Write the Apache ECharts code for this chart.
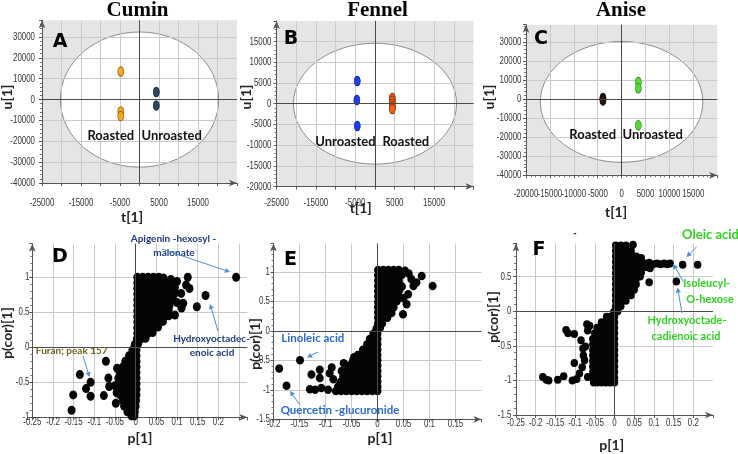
<!DOCTYPE html>
<html><head><meta charset="utf-8">
<script src="https://cdn.jsdelivr.net/npm/echarts@6/dist/echarts.min.js"></script>
<style>html,body{margin:0;padding:0;background:#fff}#c{width:738px;height:454px}</style>
</head><body><div id="c"></div>
<script>
// ================= DATA =================
const titles = ['Cumin', 'Fennel', 'Anise'];
const panelLetters = ['A', 'B', 'C', 'D', 'E', 'F'];

// --- score plots: [t[1], u[1]] ---
const cuminRoasted = [[-4800, 13400], [-4800, -5700], [-4800, -7900]];
const cuminUnroasted = [[4300, 3600], [4300, -2800]];
const fennelUnroasted = [[-4500, 5500], [-4600, 900], [-4500, -5400]];
const fennelRoasted = [[4400, 1400], [4400, 700], [4400, 0], [4400, -700], [4400, -1300]];
const aniseRoasted = [[-3900, 600], [-3900, 0], [-3900, -700]];
const aniseUnroasted = [[3500, 9000], [3500, 5600], [3500, -13800]];
// Hotelling ellipses: [centre t, centre u, half-width, half-height]
const cuminEllipse = [0, 0, 20300, 32400];
const fennelEllipse = [0, 0, 20700, 14600];
const aniseEllipse = [0, -1500, 17000, 31700];

// --- tick labels ---
const cuminTTicks = [-25000, -15000, -5000, 5000, 15000];
const cuminUTicks = [-40000, -30000, -20000, -10000, 0, 10000, 20000, 30000];
const fennelTTicks = [-25000, -15000, -5000, 5000, 15000];
const fennelUTicks = [-20000, -15000, -10000, -5000, 0, 5000, 10000, 15000];
const aniseTTicks = [-20000, -15000, -10000, -5000, 0, 5000, 10000, 15000];
const aniseUTicks = [-40000, -30000, -20000, -10000, 0, 10000, 20000, 30000];
const cuminPTicks = [-0.25, -0.2, -0.15, -0.1, -0.05, 0, 0.05, 0.1, 0.15, 0.2];
const cuminPcorTicks = [-1, -0.5, 0, 0.5, 1];
const fennelPTicks = [-0.2, -0.15, -0.1, -0.05, 0, 0.05, 0.1, 0.15];
const fennelPcorTicks = [-1.5, -1, -0.5, 0, 0.5, 1];
const anisePTicks = [-0.25, -0.2, -0.15, -0.1, -0.05, 0, 0.05, 0.1, 0.15, 0.2];
const anisePcorTicks = [-1.5, -1, -0.5, 0, 0.5];

// --- S-plots: [p[1], p(cor)[1]] ---
const cuminLoadings = [
  [0.004,1.0],[0.017,1.0],[0.03,1.0],[0.043,1.0],[0.056,1.0],
  [0.004,0.92],[0.017,0.92],[0.03,0.92],[0.043,0.92],[0.056,0.92],[0.069,0.92],[0.082,0.92],[0.09,0.93],
  [0.004,0.84],[0.017,0.84],[0.03,0.84],[0.043,0.84],[0.056,0.84],[0.069,0.84],[0.082,0.84],[0.095,0.85],
  [0.004,0.76],[0.017,0.76],[0.03,0.76],[0.043,0.76],[0.056,0.76],[0.069,0.76],[0.082,0.76],[0.094,0.77],
  [0.004,0.68],[0.017,0.68],[0.03,0.68],[0.043,0.68],[0.056,0.68],[0.069,0.68],[0.082,0.68],[0.09,0.69],
  [0.004,0.6],[0.017,0.6],[0.03,0.6],[0.043,0.6],[0.056,0.6],[0.069,0.6],[0.082,0.6],
  [0.004,0.52],[0.017,0.52],[0.03,0.52],[0.043,0.52],[0.056,0.52],[0.069,0.52],[0.08,0.53],
  [0.004,0.44],[0.017,0.44],[0.03,0.44],[0.043,0.44],[0.056,0.44],[0.069,0.44],[0.08,0.45],
  [0.004,0.36],[0.017,0.36],[0.03,0.36],[0.043,0.36],[0.056,0.36],[0.066,0.37],
  [0.004,0.28],[0.017,0.28],[0.03,0.28],[0.043,0.28],[0.054,0.29],
  [0.004,0.2],[0.017,0.2],[0.03,0.2],[0.041,0.21],
  [0.003,0.12],[0.013,0.12],[0.024,0.13],
  [-0.002,0.04],[0.006,0.05],
  [0.002,-0.04],[-0.008,-0.04],
  [0.002,-0.12],[-0.009,-0.12],[-0.016,-0.12],
  [0.002,-0.2],[-0.009,-0.2],[-0.02,-0.2],[-0.025,-0.2],
  [0.002,-0.28],[-0.009,-0.28],[-0.02,-0.28],[-0.031,-0.28],
  [0.002,-0.36],[-0.009,-0.36],[-0.02,-0.36],[-0.031,-0.36],[-0.038,-0.36],
  [0.002,-0.44],[-0.009,-0.44],[-0.02,-0.44],[-0.031,-0.44],[-0.042,-0.44],
  [0.002,-0.52],[-0.009,-0.52],[-0.02,-0.52],[-0.031,-0.52],[-0.042,-0.52],
  [0.002,-0.6],[-0.009,-0.6],[-0.02,-0.6],[-0.031,-0.6],[-0.042,-0.6],
  [0.002,-0.68],[-0.009,-0.68],[-0.02,-0.68],[-0.031,-0.68],[-0.038,-0.68],
  [0.001,-0.76],[-0.009,-0.76],[-0.02,-0.76],[-0.031,-0.76],
  [0.0,-0.84],[-0.009,-0.84],[-0.02,-0.84],[-0.028,-0.84],
  [-0.002,-0.92],[-0.011,-0.92],[-0.02,-0.92],
  [-0.003,-0.98],[-0.01,-0.98],
  [0.067,0.99],[0.085,0.97],[0.1,0.94],[0.126,1.0],[0.122,0.89],[0.13,0.84],[0.11,0.77],
  [0.115,0.63],[0.1,0.64],[0.111,0.56],[0.148,0.58],[0.169,0.74],[0.243,1.0],[0.095,0.46],
  [-0.155,-0.9],[-0.151,-0.68],[-0.135,-0.39],[-0.12,-0.59],[-0.109,-0.5],[-0.109,-0.7],
  [-0.077,-0.69],[-0.072,-0.2],[-0.066,-0.44],[-0.064,-0.56],[-0.05,-0.55],[-0.048,-0.8],
  [-0.045,-0.3],[-0.046,-0.65]
];
const fennelLoadings = [
  [0.001,1.03],[0.011,1.03],[0.021,1.03],[0.031,1.03],[0.041,1.03],
  [0.001,0.94],[0.011,0.94],[0.021,0.94],[0.031,0.94],[0.041,0.94],[0.047,0.95],
  [0.001,0.85],[0.011,0.85],[0.021,0.85],[0.031,0.85],[0.041,0.85],
  [0.001,0.76],[0.011,0.76],[0.021,0.76],[0.031,0.76],[0.041,0.76],[0.047,0.75],
  [0.001,0.67],[0.011,0.67],[0.021,0.67],[0.031,0.67],[0.041,0.67],
  [0.001,0.58],[0.011,0.58],[0.021,0.58],[0.031,0.58],[0.041,0.58],
  [0.001,0.49],[0.011,0.49],[0.021,0.49],[0.031,0.49],[0.037,0.5],
  [0.001,0.4],[0.011,0.4],[0.021,0.4],[0.031,0.4],
  [0.001,0.31],[0.011,0.31],[0.021,0.31],[0.027,0.3],
  [0.001,0.22],[0.011,0.22],[0.019,0.22],
  [0.001,0.13],[0.009,0.13],
  [-0.002,0.04],[0.005,0.05],
  [0.053,1.02],[0.06,0.97],[0.065,0.88],[0.069,0.76],[0.075,0.82],[0.085,0.93],[0.106,0.76],
  [0.059,0.62],[0.056,0.45],[0.049,0.28],[0.05,0.55],
  [0.0,-0.05],[-0.008,-0.05],
  [0.0,-0.14],[-0.01,-0.14],[-0.015,-0.14],
  [0.0,-0.23],[-0.01,-0.23],[-0.02,-0.23],
  [0.0,-0.32],[-0.01,-0.32],[-0.02,-0.32],[-0.028,-0.32],
  [0.0,-0.41],[-0.01,-0.41],[-0.02,-0.41],[-0.03,-0.41],[-0.038,-0.41],
  [0.0,-0.5],[-0.01,-0.5],[-0.02,-0.5],[-0.03,-0.5],[-0.04,-0.5],[-0.047,-0.5],
  [0.0,-0.59],[-0.01,-0.59],[-0.02,-0.59],[-0.03,-0.59],[-0.04,-0.59],[-0.05,-0.59],[-0.055,-0.59],
  [0.0,-0.68],[-0.01,-0.68],[-0.02,-0.68],[-0.03,-0.68],[-0.04,-0.68],[-0.05,-0.68],[-0.06,-0.68],
  [0.0,-0.77],[-0.01,-0.77],[-0.02,-0.77],[-0.03,-0.77],[-0.04,-0.77],[-0.05,-0.77],[-0.06,-0.77],[-0.066,-0.77],
  [0.0,-0.86],[-0.01,-0.86],[-0.02,-0.86],[-0.03,-0.86],[-0.04,-0.86],[-0.05,-0.86],[-0.06,-0.86],[-0.07,-0.86],
  [0.0,-0.95],[-0.01,-0.95],[-0.02,-0.95],[-0.03,-0.95],[-0.04,-0.95],[-0.05,-0.95],[-0.06,-0.95],[-0.07,-0.95],[-0.076,-0.95],
  [0.0,-1.02],[-0.01,-1.02],[-0.02,-1.02],[-0.03,-1.02],[-0.04,-1.02],[-0.05,-1.02],[-0.06,-1.02],[-0.07,-1.02],[-0.08,-1.02],
  [-0.189,-0.64],[-0.175,-0.93],[-0.149,-0.5],[-0.13,-0.99],[-0.127,-0.74],[-0.12,-1.0],[-0.111,-0.66],
  [-0.111,-0.8],[-0.108,-0.97],[-0.095,-1.0],[-0.088,-0.62],[-0.085,-0.82],[-0.092,-0.72],[-0.069,-0.68],
  [-0.072,-0.9],[-0.065,-0.55],[-0.045,-0.45]
];
const aniseLoadings = [
  [0.003,0.95],[0.016,0.95],[0.029,0.95],
  [0.003,0.87],[0.016,0.87],[0.029,0.87],[0.042,0.87],
  [0.003,0.79],[0.016,0.79],[0.029,0.79],[0.042,0.79],[0.055,0.79],
  [0.003,0.71],[0.016,0.71],[0.029,0.71],[0.042,0.71],[0.055,0.71],[0.062,0.71],
  [0.003,0.63],[0.016,0.63],[0.029,0.63],[0.042,0.63],[0.055,0.63],[0.062,0.63],
  [0.003,0.55],[0.016,0.55],[0.029,0.55],[0.042,0.55],[0.055,0.55],
  [0.003,0.47],[0.016,0.47],[0.029,0.47],[0.042,0.47],[0.055,0.47],
  [0.003,0.39],[0.016,0.39],[0.029,0.39],[0.042,0.39],[0.055,0.39],
  [0.003,0.31],[0.016,0.31],[0.029,0.31],[0.042,0.31],[0.05,0.31],
  [0.003,0.23],[0.016,0.23],[0.029,0.23],[0.042,0.23],
  [0.003,0.15],[0.016,0.15],[0.029,0.15],
  [0.003,0.07],[0.016,0.07],
  [-0.002,-0.01],[0.008,0.0],
  [0.068,0.71],[0.078,0.69],[0.088,0.7],[0.098,0.68],[0.108,0.69],[0.117,0.68],[0.126,0.69],
  [0.134,0.68],[0.141,0.69],[0.07,0.63],[0.08,0.64],[0.068,0.77],[0.09,0.62],
  [0.173,0.67],[0.211,0.67],[0.157,0.43],[0.088,0.42],[0.068,0.56],[0.047,0.96],[0.065,0.5],
  [0.0,-0.08],[-0.011,-0.08],[-0.02,-0.08],
  [0.0,-0.16],[-0.011,-0.16],[-0.022,-0.16],[-0.033,-0.16],
  [0.0,-0.24],[-0.011,-0.24],[-0.022,-0.24],[-0.033,-0.24],[-0.044,-0.24],
  [0.0,-0.32],[-0.011,-0.32],[-0.022,-0.32],[-0.033,-0.32],[-0.044,-0.32],[-0.05,-0.32],
  [0.0,-0.4],[-0.011,-0.4],[-0.022,-0.4],[-0.033,-0.4],[-0.044,-0.4],[-0.055,-0.4],
  [0.0,-0.48],[-0.011,-0.48],[-0.022,-0.48],[-0.033,-0.48],[-0.044,-0.48],[-0.055,-0.48],
  [0.0,-0.56],[-0.011,-0.56],[-0.022,-0.56],[-0.033,-0.56],[-0.044,-0.56],[-0.055,-0.56],
  [0.0,-0.64],[-0.011,-0.64],[-0.022,-0.64],[-0.033,-0.64],[-0.044,-0.64],[-0.055,-0.64],
  [0.0,-0.72],[-0.011,-0.72],[-0.022,-0.72],[-0.033,-0.72],[-0.044,-0.72],[-0.055,-0.72],
  [0.0,-0.8],[-0.011,-0.8],[-0.022,-0.8],[-0.033,-0.8],[-0.044,-0.8],[-0.055,-0.8],
  [0.0,-0.88],[-0.011,-0.88],[-0.022,-0.88],[-0.033,-0.88],[-0.044,-0.88],[-0.055,-0.88],
  [0.0,-0.96],[-0.011,-0.96],[-0.022,-0.96],[-0.033,-0.96],[-0.044,-0.96],[-0.055,-0.96],
  [0.0,-1.03],[-0.011,-1.03],[-0.022,-1.03],[-0.033,-1.03],[-0.044,-1.03],[-0.053,-1.03],
  [-0.182,-0.95],[-0.173,-0.99],[-0.167,-1.0],[-0.144,-0.99],[-0.129,-0.94],[-0.123,-0.27],
  [-0.118,-0.32],[-0.102,-0.33],[-0.102,-0.75],[-0.096,-0.98],[-0.107,-1.0],[-0.089,-0.9],
  [-0.082,-0.81],[-0.079,-0.64],[-0.074,-0.51],[-0.085,-0.42],[-0.07,-0.19],[-0.068,-0.95],
  [-0.076,-0.71],[-0.063,-0.21],[-0.068,-0.28],[-0.08,-0.54]
];

// ================= CHART =================
const AXC = '#555';
function mkAxis(gi, min, max, interval, minor) {
  return {
    type: 'value', gridIndex: gi, min, max, interval, z: 2,
    axisLine: { show: true, onZero: false, symbol: ['none', 'arrow'], symbolSize: [5, 8],
      lineStyle: { color: AXC, width: 1 } },
    axisTick: { show: true, length: 3, lineStyle: { color: AXC } },
    minorTick: { show: !!minor, splitNumber: 5, length: 2, lineStyle: { color: '#777' } },
    splitLine: { show: true, showMaxLine: false, lineStyle: { color: '#c9c9c9', width: 1 } },
    axisLabel: { show: false }
  };
}
const grids = [
  { left: 42, top: 20.3, width: 195, height: 162.7, show: true, backgroundColor: '#e5e5e5', borderWidth: 0 },
  { left: 276.5, top: 20.9, width: 197, height: 165.6, show: true, backgroundColor: '#e5e5e5', borderWidth: 0 },
  { left: 526, top: 24.7, width: 191.2, height: 150.6, show: true, backgroundColor: '#e5e5e5', borderWidth: 0 },
  { left: 32.3, top: 243.7, width: 215, height: 173.6 },
  { left: 273.5, top: 243.5, width: 208, height: 175.8 },
  { left: 516, top: 243.4, width: 197, height: 171.6 }
];
// axis ranges: [xmin, xmax, xint, ymin, ymax, yint]
const ranges = [
  [-25000, 25000, 5000, -40000, 38000, 10000],
  [-25000, 25000, 5000, -20000, 20000, 5000],
  [-20000, 20000, 5000, -40000, 39000, 10000],
  [-0.25, 0.27, 0.05, -1, 1.48, 0.5],
  [-0.2, 0.2, 0.05, -1.5, 1.48, 0.5],
  [-0.25, 0.25, 0.05, -1.5, 0.98, 0.5]
];
const xMinor = [false, false, true, false, false, false];
const xAxes = ranges.map((r, i) => mkAxis(i, r[0], r[1], r[2], xMinor[i]));
const yAxes = ranges.map((r, i) => mkAxis(i, r[3], r[4], r[5], true));
// tick label lists per panel and their offsets from the axis line (x: centre below axis, y: right edge left of axis)
const tickSpec = [
  { x: cuminTTicks, y: cuminUTicks, dx: 19.5, dy: 7 },
  { x: fennelTTicks, y: fennelUTicks, dx: 16, dy: 5 },
  { x: aniseTTicks, y: aniseUTicks, dx: 18.7, dy: 4.5 },
  { x: cuminPTicks, y: cuminPcorTicks, dx: 4.8, dy: 2.8 },
  { x: fennelPTicks, y: fennelPcorTicks, dx: 4.2, dy: 3.5 },
  { x: anisePTicks, y: anisePcorTicks, dx: 8.3, dy: 4.5 }
];

const zeroLines = { silent: true, symbol: 'none', label: { show: false },
  lineStyle: { color: '#4a4a4a', width: 1, type: 'solid' }, data: [{ xAxis: 0 }, { yAxis: 0 }], animation: false };

function ellipseSeries(gi, ell) {
  return { type: 'custom', xAxisIndex: gi, yAxisIndex: gi, z: 1, silent: true, data: [ell],
    encode: { x: 0, y: 1 },
    renderItem: (params, api) => {
      const c = api.coord([api.value(0), api.value(1)]);
      const s = api.size([api.value(2), api.value(3)]);
      return { type: 'ellipse', shape: { cx: c[0], cy: c[1], rx: s[0], ry: s[1] },
        style: { fill: '#ffffff', stroke: '#8c8c8c', lineWidth: 1 } };
    } };
}
function scoreSeries(gi, data, fill, border, withZero) {
  const s = { type: 'scatter', xAxisIndex: gi, yAxisIndex: gi, z: 4, data, symbol: 'circle', symbolSize: [6, 9.5],
    itemStyle: { color: fill, borderColor: border, borderWidth: 0.8, opacity: 1 } };
  if (withZero) s.markLine = zeroLines;
  return s;
}
function loadSeries(gi, data, size) {
  return { type: 'scatter', xAxisIndex: gi, yAxisIndex: gi, z: 4, data, symbol: 'circle', symbolSize: size,
    itemStyle: { color: '#050505', opacity: 1 }, markLine: zeroLines };
}
const series = [
  ellipseSeries(0, cuminEllipse), ellipseSeries(1, fennelEllipse), ellipseSeries(2, aniseEllipse),
  scoreSeries(0, cuminRoasted, '#f5a623', '#9a5b00', true),
  scoreSeries(0, cuminUnroasted, '#2c4863', '#16263a', false),
  scoreSeries(1, fennelUnroasted, '#1f3ff0', '#0a1f90', true),
  scoreSeries(1, fennelRoasted, '#f0621a', '#8a2a00', false),
  scoreSeries(2, aniseRoasted, '#2e1610', '#140804', true),
  scoreSeries(2, aniseUnroasted, '#5ad83a', '#2a8a1a', false),
  loadSeries(3, cuminLoadings, [8, 9]),
  loadSeries(4, fennelLoadings, [8, 8.5]),
  loadSeries(5, aniseLoadings, [7.5, 8])
];

// ---------- annotations ----------
const G = [];
function txt(x, y, text, font, fill, rot) {
  G.push({ type: 'text', x, y, rotation: rot || 0, z: 20, silent: true,
    style: { text, font, fill, align: 'center', verticalAlign: 'middle' } });
}
function arrow(x1, y1, x2, y2, color) {
  const a = Math.atan2(y2 - y1, x2 - x1), L = 5, W = 2.6;
  const bx = x2 - L * Math.cos(a), by = y2 - L * Math.sin(a);
  const px = -Math.sin(a) * W, py = Math.cos(a) * W;
  G.push({ type: 'line', z: 20, silent: true, shape: { x1, y1, x2: bx, y2: by }, style: { stroke: color, lineWidth: 1 } });
  G.push({ type: 'polygon', z: 20, silent: true, shape: { points: [[x2, y2], [bx + px, by + py], [bx - px, by - py]] }, style: { fill: color } });
}
const TF = 'bold 21px "Liberation Serif", "Times New Roman", serif';
txt(137.5, 10.5, titles[0], TF, '#000');
txt(377.5, 10.5, titles[1], TF, '#000');
txt(621, 10.5, titles[2], TF, '#000');
const LF = 'bold 19px "DejaVu Sans", sans-serif';
txt(60, 41.7, panelLetters[0], LF, '#000');
txt(291, 39.3, panelLetters[1], LF, '#000');
txt(541, 39.5, panelLetters[2], LF, '#000');
txt(60, 256.7, panelLetters[3], LF, '#000');
txt(290.5, 260.3, panelLetters[4], LF, '#000');
txt(539, 249.7, panelLetters[5], LF, '#000');
const AF = 'bold 14px Lato, "Open Sans", sans-serif';
txt(7, 97, 'u[1]', AF, '#222', Math.PI / 2);
txt(246.7, 97, 'u[1]', AF, '#222', Math.PI / 2);
txt(489, 97, 'u[1]', AF, '#222', Math.PI / 2);
txt(132, 217, 't[1]', AF, '#222');
txt(360.7, 208.5, 't[1]', AF, '#222');
txt(616, 212, 't[1]', AF, '#222');
txt(7, 333, 'p(cor)[1]', AF, '#222', Math.PI / 2);
txt(255, 344, 'p(cor)[1]', AF, '#222', Math.PI / 2);
txt(493, 317, 'p(cor)[1]', AF, '#222', Math.PI / 2);
txt(140, 438.3, 'p[1]', AF, '#222');
txt(380, 438.3, 'p[1]', AF, '#222');
txt(611.7, 445.5, 'p[1]', AF, '#222');
const RF = 'bold 13px Lato, sans-serif';
txt(110.8, 135.8, 'Roasted', RF, '#111');
txt(171.7, 135.5, 'Unroasted', RF, '#111');
txt(345.5, 141.7, 'Unroasted', RF, '#111');
txt(405.8, 141.7, 'Roasted', RF, '#111');
txt(592.7, 135, 'Roasted', RF, '#111');
txt(652.7, 135, 'Unroasted', RF, '#111');
// D
const navy = '#1f3a7c', arrowC = '#4a8fd6';
const DF = 'bold 10px Lato, sans-serif';
txt(173.5, 239, 'Apigenin -hexosyl -', DF, navy);
txt(174, 253, 'malonate', DF, navy);
txt(211.5, 338.3, 'Hydroxyoctadec-', DF, navy);
txt(212, 353, 'enoic acid', DF, navy);
txt(71.7, 350.5, 'Furan; peak 157', DF, '#6f5f17');
arrow(162, 249, 230, 272, arrowC);
arrow(218, 331, 210, 304, arrowC);
arrow(83, 356, 89.5, 377, arrowC);
// E
const EF = 'bold 11.5px Lato, sans-serif';
txt(312.8, 338.3, 'Linoleic acid', EF, '#2a6bd0');
txt(340, 410.5, 'Quercetin -glucuronide', EF, '#2a6bd0');
arrow(318, 352, 307, 357.5, arrowC);
arrow(300, 405, 290, 391, arrowC);
// F
const green = '#30d420';
txt(710.5, 235, 'Oleic acid', 'bold 13px Lato, sans-serif', green);
const FF = 'bold 11px Lato, sans-serif';
txt(706.7, 283.3, 'Isoleucyl-', FF, green);
txt(710, 299, 'O-hexose', FF, green);
txt(687, 320, 'Hydroxyoctade-', FF, green);
txt(686, 336.5, 'cadienoic acid', FF, green);
arrow(696.7, 246.7, 686.5, 257, arrowC);
arrow(683.3, 281.7, 673.3, 264, arrowC);
arrow(682, 313, 677.5, 287.5, arrowC);
txt(575, 233, '-', 'bold 10px sans-serif', '#333');

const chart = echarts.init(document.getElementById('c'), null, { renderer: 'canvas', width: 738, height: 454 });
chart.setOption({
  animation: false,
  backgroundColor: '#ffffff',
  grid: grids, xAxis: xAxes, yAxis: yAxes, series, graphic: G
});

// condensed tick labels, positioned through each grid's own scales
const TICKFONT = '11px "Liberation Sans", Arial, sans-serif';
const tickTexts = [];
tickSpec.forEach((s, gi) => {
  const r = ranges[gi];
  s.x.forEach(v => {
    const p = chart.convertToPixel({ gridIndex: gi }, [v, r[3]]);
    tickTexts.push({ type: 'text', x: p[0], y: p[1] + s.dx, scaleX: 0.72, z: 15, silent: true,
      style: { text: String(v), font: TICKFONT, fill: '#333', align: 'center', verticalAlign: 'middle' } });
  });
  s.y.forEach(v => {
    const p = chart.convertToPixel({ gridIndex: gi }, [r[0], v]);
    tickTexts.push({ type: 'text', x: p[0] - s.dy, y: p[1], scaleX: 0.72, z: 15, silent: true,
      style: { text: String(v), font: TICKFONT, fill: '#333', align: 'right', verticalAlign: 'middle' } });
  });
});
chart.setOption({ graphic: G.concat(tickTexts) });
</script></body></html>
